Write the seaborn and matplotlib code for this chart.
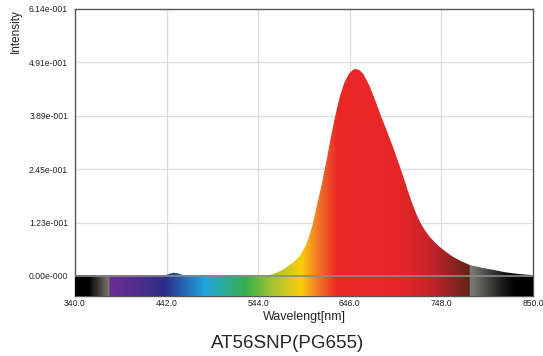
import numpy as np
import pandas as pd
import matplotlib
matplotlib.use("Agg")
import matplotlib.pyplot as plt
from matplotlib.colors import LinearSegmentedColormap
import seaborn as sns

# ---- data ----
wavelength = [340, 350, 360, 370, 380, 390, 400, 410, 420, 430, 435, 440, 445, 450, 455, 460, 465,
              470, 480, 490, 500, 510, 520, 530, 540, 545, 550, 557, 565, 572, 579, 585, 591,
              598, 604, 609, 615, 620, 625, 630, 635, 640, 645, 650, 653, 657, 661, 668, 675, 680,
              687, 694, 700, 705, 710, 715, 720, 725, 730, 735, 740, 746, 754, 761, 770, 780, 793, 806, 818,
              828, 840, 850]
intensity = [0, 0, 0, 0, 0, 0, 0, 0, 0, 0, 0, 0.001, 0.005, 0.0075, 0.006, 0.002, 0,
             0, 0, 0, 0, 0, 0, 0, 0, 0, 0.0005, 0.002, 0.008, 0.015, 0.025, 0.035, 0.048,
             0.075, 0.113, 0.159, 0.213, 0.265, 0.320, 0.370, 0.413, 0.445, 0.465, 0.475, 0.476, 0.473, 0.465, 0.437, 0.400, 0.372,
             0.335, 0.297, 0.262, 0.232, 0.200, 0.170, 0.143, 0.121, 0.104, 0.090, 0.079, 0.067, 0.054, 0.044, 0.034, 0.025, 0.019, 0.014, 0.009,
             0.006, 0.0035, 0.002]

x_ticks = [340.0, 442.0, 544.0, 646.0, 748.0, 850.0]
x_tick_labels = ["340.0", "442.0", "544.0", "646.0", "748.0", "850.0"]
y_ticks = [0.0, 0.1228, 0.2456, 0.3684, 0.4912, 0.614]
y_tick_labels = ["0.00e-000", "1.23e-001", "2.45e-001", "3.89e-001", "4.91e-001", "6.14e-001"]
title = "AT56SNP(PG655)"
x_label = "Wavelengt[nm]"
y_label = "Intensity"

# spectrum colour stops (wavelength, rgb)
spec_stops = [(340, (0, 0, 0)), (355, (0, 0, 0)), (378, (125, 122, 115)), (378.5, (105, 45, 145)),
              (405, (85, 45, 140)), (440, (45, 45, 135)), (465, (35, 110, 190)), (485, (35, 165, 220)),
              (505, (40, 170, 160)), (530, (55, 175, 75)), (560, (165, 195, 50)), (592, (252, 205, 10)),
              (612, (240, 115, 40)), (632, (235, 40, 38)), (700, (230, 38, 38)), (735, (200, 35, 45)),
              (758, (150, 35, 35)), (779.5, (100, 35, 20)), (780, (125, 125, 120)), (815, (30, 30, 30)),
              (830, (0, 0, 0)), (850, (0, 0, 0))]

df = pd.DataFrame({"wavelength": wavelength, "intensity": intensity})

sns.set_style("white")
plt.rcParams["font.family"] = ["Liberation Sans", "DejaVu Sans"]

fig = plt.figure(figsize=(5.43, 3.56), dpi=100)
ax = fig.add_axes([75 / 543, 1 - 296 / 356, 458 / 543, 287 / 356])

wmin, wmax = 340, 850
cmap = LinearSegmentedColormap.from_list(
    "spec", [((w - wmin) / (wmax - wmin), tuple(c / 255 for c in rgb)) for w, rgb in spec_stops], N=1024)

ymin, ymax = -0.046, 0.614
ax.set_xlim(wmin, wmax)
ax.set_ylim(ymin, ymax)

# grid
for xt in x_ticks[1:-1]:
    ax.axvline(xt, color="#dedede", lw=0.9, zorder=0)
for yt in y_ticks[1:-1]:
    ax.axhline(yt, color="#dedede", lw=0.9, zorder=0)

# curve through seaborn (invisible line), fill coloured by wavelength
sns.lineplot(data=df, x="wavelength", y="intensity", ax=ax, lw=0, color="#e8282a", zorder=2)
poly = ax.fill_between(df["wavelength"], 0, df["intensity"], facecolor="none", edgecolor="none")
grad = np.linspace(wmin, wmax, 1024)[None, :]
img = ax.imshow(grad, extent=(wmin, wmax, 0, ymax), cmap=cmap, vmin=wmin, vmax=wmax,
                aspect="auto", origin="lower", zorder=2, interpolation="bilinear")
img.set_clip_path(poly.get_paths()[0], transform=ax.transData)

# spectrum bar under zero
ax.imshow(grad, extent=(wmin, wmax, ymin, 0), cmap=cmap, vmin=wmin, vmax=wmax,
          aspect="auto", origin="lower", zorder=3, interpolation="bilinear")
ax.axhline(0, color="#8a8a8a", lw=1.2, zorder=4)

ax.set_xticks(x_ticks)
ax.set_xticklabels(x_tick_labels, fontsize=6.2)
ax.set_yticks(y_ticks)
ax.set_yticklabels(y_tick_labels, fontsize=6.2)
ax.tick_params(axis="x", length=0, pad=2)
ax.tick_params(axis="y", length=0, pad=5)
ax.set_xlabel(x_label, fontsize=9, labelpad=2)
ax.set_ylabel(y_label, fontsize=8.5, loc="top", labelpad=5)
for s in ax.spines.values():
    s.set_color("#555555")
    s.set_linewidth(1.0)
    s.set_visible(True)
ax.set_aspect("auto")

fig.text(288 / 543, 1 - 343 / 356, title, fontsize=13.5, ha="center", va="center")

fig.savefig("out.png", dpi=100)
